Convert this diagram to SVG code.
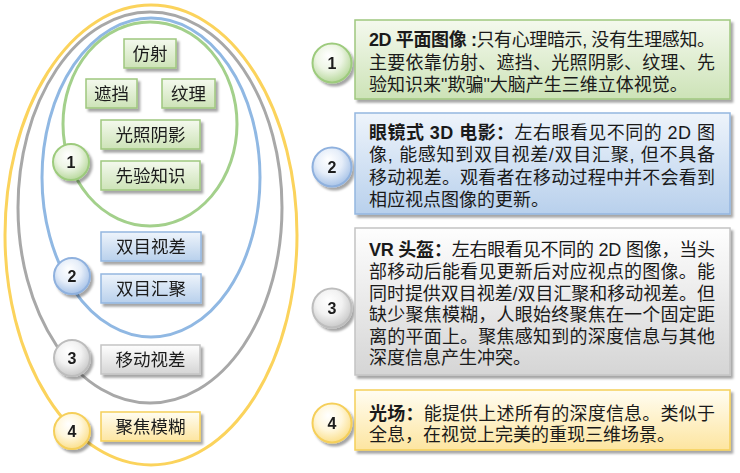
<svg xmlns="http://www.w3.org/2000/svg" width="740" height="473" viewBox="0 0 740 473">
<defs>
<style>
.ell{fill:none;stroke-width:3}
.lt{font-family:"Liberation Sans","Noto Sans CJK SC",sans-serif;font-size:17.5px;fill:#1a1a1a;text-anchor:middle}
.num{font-family:"Liberation Sans","Noto Sans CJK SC",sans-serif;font-size:16px;font-weight:bold;fill:#1a1a1a;text-anchor:middle}
.rt{font-family:"Liberation Sans","Noto Sans CJK SC",sans-serif;font-size:18px;fill:#1a1a1a}
.b{font-weight:bold}
.gB{fill:url(#gG);stroke:#9fc77f;stroke-width:1.5}
.bB{fill:url(#gBl);stroke:#94b6e0;stroke-width:1.5}
.yB{fill:url(#gGr);stroke:#c4c4c4;stroke-width:1.5}
.oB{fill:url(#gY);stroke:#f5cf5a;stroke-width:1.5}
.gC{fill:url(#cG);stroke:#9dcb7d;stroke-width:2}
.bC{fill:url(#cB);stroke:#8fb1de;stroke-width:2}
.yC{fill:url(#cGr);stroke:#bdbdbd;stroke-width:2}
.oC{fill:url(#cY);stroke:#f5cf5a;stroke-width:2}
</style>
<filter id="sh" x="-10%" y="-15%" width="130%" height="150%"><feDropShadow dx="2.5" dy="3" stdDeviation="1.2" flood-color="#000" flood-opacity="0.35"/></filter>
<linearGradient id="gG" x1="0" y1="0" x2="0" y2="1"><stop offset="0" stop-color="#f4f9ee"/><stop offset="1" stop-color="#cde3b7"/></linearGradient>
<linearGradient id="gBl" x1="0" y1="0" x2="0" y2="1"><stop offset="0" stop-color="#eef4fb"/><stop offset="1" stop-color="#b8d0ec"/></linearGradient>
<linearGradient id="gGr" x1="0" y1="0" x2="0" y2="1"><stop offset="0" stop-color="#fefefe"/><stop offset="1" stop-color="#d5d5d5"/></linearGradient>
<linearGradient id="gY" x1="0" y1="0" x2="0" y2="1"><stop offset="0" stop-color="#fffdf2"/><stop offset="1" stop-color="#fde5a0"/></linearGradient>
<radialGradient id="cG" cx="0.45" cy="0.4" r="0.6" fx="0.4" fy="0.3"><stop offset="0" stop-color="#ffffff"/><stop offset="0.55" stop-color="#edf5e4"/><stop offset="1" stop-color="#b9d99e"/></radialGradient>
<radialGradient id="cB" cx="0.45" cy="0.4" r="0.6" fx="0.4" fy="0.3"><stop offset="0" stop-color="#ffffff"/><stop offset="0.55" stop-color="#e6eef9"/><stop offset="1" stop-color="#a9c4e8"/></radialGradient>
<radialGradient id="cGr" cx="0.45" cy="0.4" r="0.6" fx="0.4" fy="0.3"><stop offset="0" stop-color="#ffffff"/><stop offset="0.55" stop-color="#f2f2f2"/><stop offset="1" stop-color="#cacaca"/></radialGradient>
<radialGradient id="cY" cx="0.45" cy="0.4" r="0.6" fx="0.4" fy="0.3"><stop offset="0" stop-color="#ffffff"/><stop offset="0.55" stop-color="#fff7dc"/><stop offset="1" stop-color="#fbe08e"/></radialGradient>
</defs>
<rect width="740" height="473" fill="#ffffff"/>

<g id="sets">
<ellipse class="ell" cx="151" cy="235" rx="146" ry="230" stroke="#fbd35c"/>
<ellipse class="ell" cx="150" cy="207.5" rx="132" ry="195.5" stroke="#a8a8a8"/>
<ellipse class="ell" cx="151" cy="177.5" rx="109" ry="159.5" stroke="#90b8e3"/>
<ellipse class="ell" cx="150" cy="124" rx="87" ry="102" stroke="#a3d08b"/>
</g>

<g id="connectors"></g>

<g id="n-fangshe" filter="url(#sh)"><rect class="gB" x="124" y="39" width="52" height="29"/><text class="lt" x="150" y="60">仿射</text></g>
<g id="n-zhedang" filter="url(#sh)"><rect class="gB" x="86" y="79" width="51" height="29"/><text class="lt" x="111.5" y="100">遮挡</text></g>
<g id="n-wenli" filter="url(#sh)"><rect class="gB" x="162" y="79" width="53" height="29"/><text class="lt" x="188.5" y="100">纹理</text></g>
<g id="n-guangzhao" filter="url(#sh)"><rect class="gB" x="101" y="120" width="99" height="29"/><text class="lt" x="150.5" y="141">光照阴影</text></g>
<g id="n-xianyan" filter="url(#sh)"><rect class="gB" x="101" y="161" width="99" height="29"/><text class="lt" x="150.5" y="182">先验知识</text></g>
<g id="n-shicha" filter="url(#sh)"><rect class="bB" x="101" y="232" width="100" height="29"/><text class="lt" x="151" y="253">双目视差</text></g>
<g id="n-huiju" filter="url(#sh)"><rect class="bB" x="101" y="274" width="100" height="29"/><text class="lt" x="151" y="295">双目汇聚</text></g>
<g id="n-yidong" filter="url(#sh)"><rect class="yB" x="101" y="345" width="99" height="29"/><text class="lt" x="150.5" y="366">移动视差</text></g>
<g id="n-jujiao" filter="url(#sh)"><rect class="oB" x="101" y="412" width="99" height="29"/><text class="lt" x="150.5" y="433">聚焦模糊</text></g>

<g id="c-l1" filter="url(#sh)"><circle class="gC" cx="71" cy="162" r="18"/><text class="num" x="71" y="168">1</text></g>
<g id="c-l2" filter="url(#sh)"><circle class="bC" cx="72" cy="276" r="18"/><text class="num" x="72" y="282">2</text></g>
<g id="c-l3" filter="url(#sh)"><circle class="yC" cx="72" cy="358" r="18"/><text class="num" x="72" y="364">3</text></g>
<g id="c-l4" filter="url(#sh)"><circle class="oC" cx="72" cy="431" r="18"/><text class="num" x="72" y="437">4</text></g>

<g id="c-r1" filter="url(#sh)"><circle class="gC" cx="332" cy="63" r="19.5"/><text class="num" x="332" y="69">1</text></g>
<g id="c-r2" filter="url(#sh)"><circle class="bC" cx="332" cy="167" r="19.5"/><text class="num" x="332" y="173">2</text></g>
<g id="c-r3" filter="url(#sh)"><circle class="yC" cx="332" cy="308" r="19.5"/><text class="num" x="332" y="314">3</text></g>
<g id="c-r4" filter="url(#sh)"><circle class="oC" cx="332" cy="423" r="19.5"/><text class="num" x="332" y="429">4</text></g>

<g id="d-2d">
<rect class="gB" x="355" y="20" width="375" height="79" filter="url(#sh)"/>
<text class="rt" x="369" y="46" textLength="346" lengthAdjust="spacing"><tspan class="b">2D 平面图像 :</tspan>只有心理暗示, 没有生理感知。</text>
<text class="rt" x="369" y="69" textLength="346" lengthAdjust="spacing">主要依靠仿射、遮挡、光照阴影、纹理、先</text>
<text class="rt" x="369" y="91">验知识来"欺骗"大脑产生三维立体视觉。</text>
</g>

<g id="d-3dfilm">
<rect class="bB" x="355" y="113" width="375" height="101" filter="url(#sh)"/>
<text class="rt" x="369" y="139" textLength="346" lengthAdjust="spacing"><tspan class="b">眼镜式 3D 电影：</tspan>左右眼看见不同的 2D 图</text>
<text class="rt" x="369" y="161" textLength="346" lengthAdjust="spacing">像, 能感知到双目视差/双目汇聚, 但不具备</text>
<text class="rt" x="369" y="184" textLength="346" lengthAdjust="spacing">移动视差。观看者在移动过程中并不会看到</text>
<text class="rt" x="369" y="206">相应视点图像的更新。</text>
</g>

<g id="d-vr">
<rect class="yB" x="355" y="228" width="375" height="147" filter="url(#sh)"/>
<text class="rt" x="369" y="256" textLength="346" lengthAdjust="spacing"><tspan class="b">VR 头盔：</tspan>左右眼看见不同的 2D 图像，当头</text>
<text class="rt" x="369" y="278" textLength="346" lengthAdjust="spacing">部移动后能看见更新后对应视点的图像。能</text>
<text class="rt" x="369" y="299.5" textLength="346" lengthAdjust="spacing">同时提供双目视差/双目汇聚和移动视差。但</text>
<text class="rt" x="369" y="321" textLength="346" lengthAdjust="spacing">缺少聚焦模糊，人眼始终聚焦在一个固定距</text>
<text class="rt" x="369" y="342.5" textLength="346" lengthAdjust="spacing">离的平面上。聚焦感知到的深度信息与其他</text>
<text class="rt" x="369" y="364">深度信息产生冲突。</text>
</g>

<g id="d-lightfield">
<rect class="oB" x="355" y="390" width="375" height="60" filter="url(#sh)"/>
<text class="rt" x="369" y="419.5" textLength="346" lengthAdjust="spacing"><tspan class="b">光场：</tspan>能提供上述所有的深度信息。类似于</text>
<text class="rt" x="369" y="441">全息，在视觉上完美的重现三维场景。</text>
</g>
</svg>
